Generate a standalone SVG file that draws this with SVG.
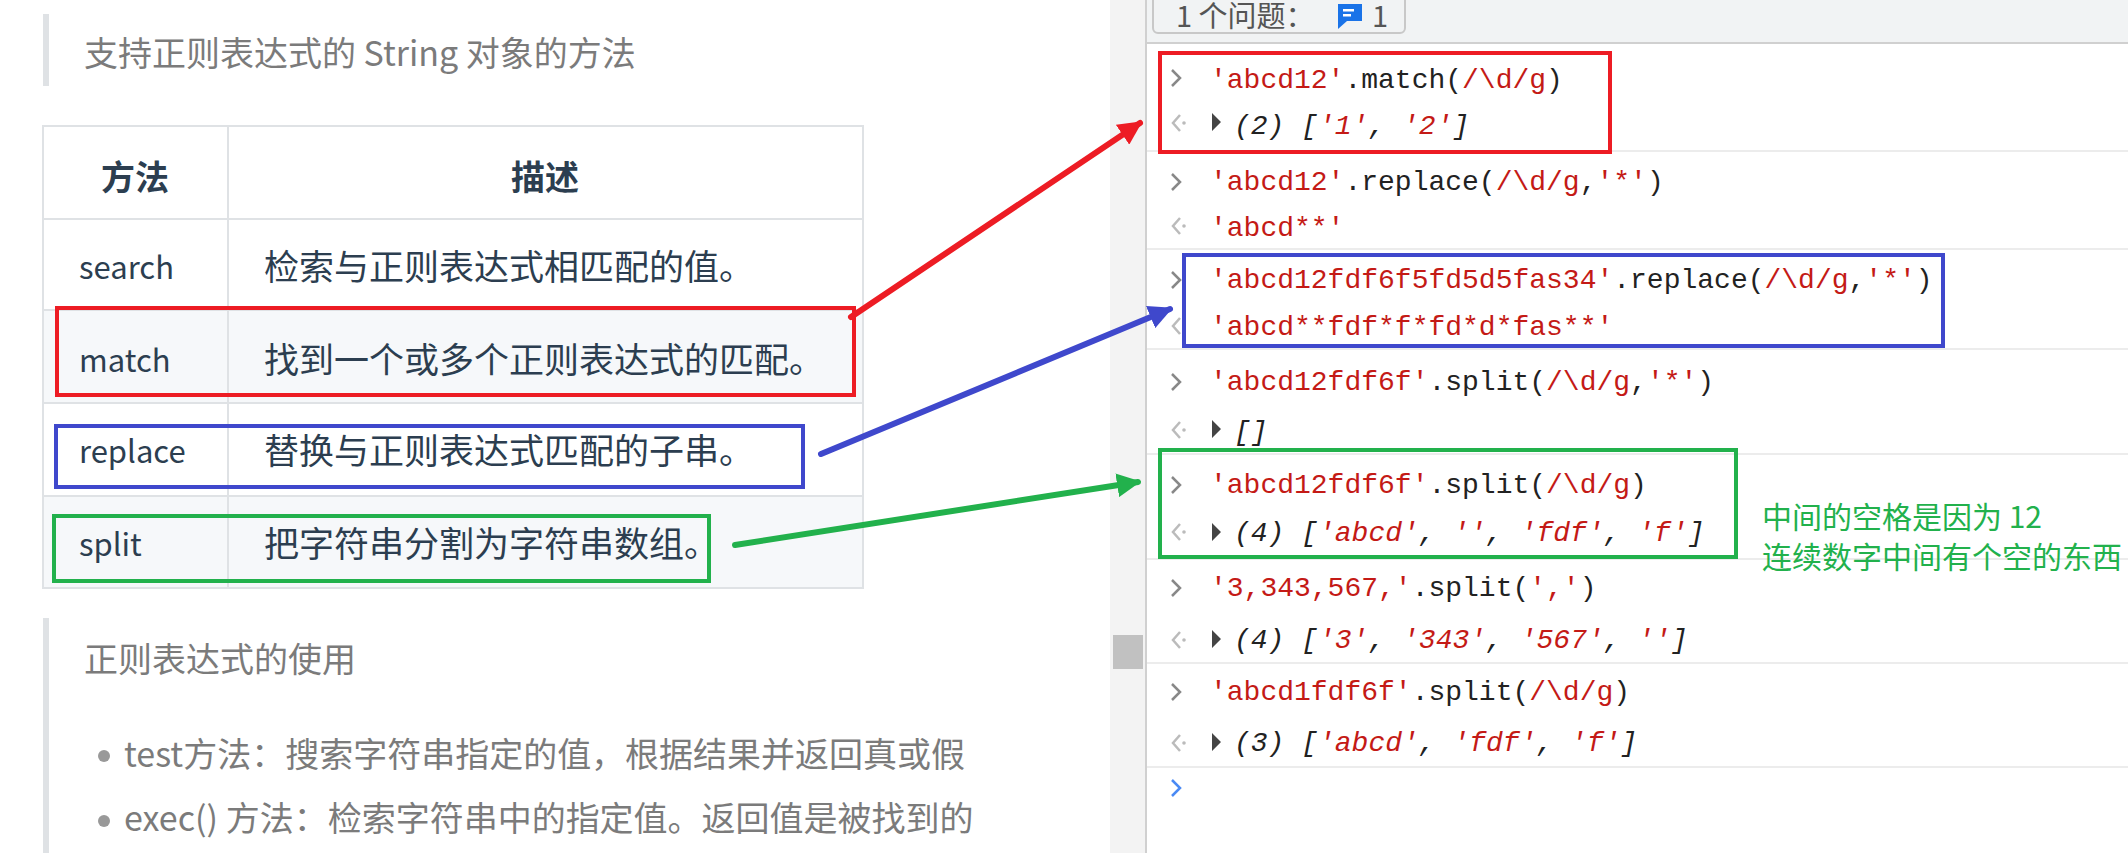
<svg xmlns="http://www.w3.org/2000/svg" width="2128" height="853" viewBox="0 0 2128 853">
<style>
.t{font-family:"Noto Sans CJK SC","Noto Sans",sans-serif}
.g{fill:#7b7b7b;font-size:34px}
.b{fill:#2c3e50;font-size:35px}
.l{fill:#2c3e50;font-size:31px}
.h{fill:#2c3e50;font-size:34px;font-weight:bold}
.m{font-family:"Liberation Mono","DejaVu Sans Mono",monospace;font-size:28px;fill:#222}
.r{fill:#c41a16}
.i{font-style:italic}
.sep{stroke:#ececec;stroke-width:2}
.cell{stroke:#dfe2e5;stroke-width:2;fill:none}
.pin{fill:none;stroke:#888;stroke-width:2.5}
.pout{fill:none;stroke:#bbb;stroke-width:2.5}
</style>
<defs>
<marker id="aR" markerWidth="4" markerHeight="4" refX="3.5" refY="2" orient="auto" markerUnits="strokeWidth"><path d="M0,0 L4,2 L0,4 Z" fill="#ed1c24"/></marker>
<marker id="aB" markerWidth="4" markerHeight="4" refX="3.5" refY="2" orient="auto" markerUnits="strokeWidth"><path d="M0,0 L4,2 L0,4 Z" fill="#3f48cc"/></marker>
<marker id="aG" markerWidth="4" markerHeight="4" refX="3.5" refY="2" orient="auto" markerUnits="strokeWidth"><path d="M0,0 L4,2 L0,4 Z" fill="#22b14c"/></marker>
</defs>
<rect width="2128" height="853" fill="#fff"/>
<g id="left">
<rect x="43" y="14" width="6" height="72" fill="#dfe2e5"/>
<text class="t g" x="84" y="66">支持正则表达式的 String 对象的方法</text>
<rect x="43" y="310" width="820" height="93" fill="#f6f8fa"/>
<rect x="43" y="496" width="820" height="92" fill="#f6f8fa"/>
<rect class="cell" x="43" y="126" width="820" height="462"/>
<line class="cell" x1="43" y1="219" x2="863" y2="219"/>
<line class="cell" x1="43" y1="310" x2="863" y2="310"/>
<line class="cell" x1="43" y1="403" x2="863" y2="403"/>
<line class="cell" x1="43" y1="496" x2="863" y2="496"/>
<line class="cell" x1="228" y1="126" x2="228" y2="588"/>
<text class="t h" x="135" y="190" text-anchor="middle">方法</text>
<text class="t h" x="545" y="190" text-anchor="middle">描述</text>
<text class="t l" x="79" y="279">search</text><text class="t b" x="264" y="280">检索与正则表达式相匹配的值。</text>
<text class="t l" x="79" y="372">match</text><text class="t b" x="264" y="373">找到一个或多个正则表达式的匹配。</text>
<text class="t l" x="79" y="463">replace</text><text class="t b" x="264" y="464">替换与正则表达式匹配的子串。</text>
<text class="t l" x="79" y="556">split</text><text class="t b" x="264" y="557">把字符串分割为字符串数组。</text>
<rect x="43" y="618" width="6" height="235" fill="#dfe2e5"/>
<text class="t g" x="84" y="672">正则表达式的使用</text>
<circle cx="104" cy="756" r="6" fill="#999"/>
<text class="t g" x="124" y="767">test方法：搜索字符串指定的值，根据结果并返回真或假</text>
<circle cx="104" cy="821" r="6" fill="#999"/>
<text class="t g" x="124" y="831">exec() 方法：检索字符串中的指定值。返回值是被找到的</text>
</g>
<g id="console">
<rect x="1110" y="0" width="36" height="853" fill="#f3f3f3"/>
<line x1="1146" y1="0" x2="1146" y2="853" stroke="#d0d0d0" stroke-width="2"/>
<rect x="1113" y="635" width="30" height="34" fill="#c1c1c1"/>
<rect x="1147" y="0" width="981" height="43" fill="#f1f3f4"/>
<line x1="1147" y1="43" x2="2128" y2="43" stroke="#d0d0d0" stroke-width="2"/>
<rect x="1153" y="-6" width="252" height="39" rx="5" fill="#f1f3f4" stroke="#c8c8c8" stroke-width="2"/>
<text class="t" x="1176" y="27" font-size="29" fill="#555">1 个问题：</text>
<path d="M1338,4 h24 v17 h-15 l-9,8 z" fill="#1a73e8"/>
<rect x="1343" y="9" width="11" height="2.5" fill="#fff"/><rect x="1343" y="14" width="8" height="2.5" fill="#fff"/>
<text class="t" x="1372" y="27" font-size="29" fill="#555">1</text>
<g id="prompts">
<path class="pin" d="M1172,70 l8,8 l-8,8"/>
<path class="pout" d="M1180,115 l-7,8 l7,8"/><circle cx="1184" cy="123" r="1.8" fill="#bbb"/>
<path class="pin" d="M1172,174 l8,8 l-8,8"/>
<path class="pout" d="M1180,218 l-7,8 l7,8"/><circle cx="1184" cy="226" r="1.8" fill="#bbb"/>
<path class="pin" d="M1172,272 l8,8 l-8,8"/>
<path class="pout" d="M1180,318 l-7,8 l7,8"/><circle cx="1184" cy="326" r="1.8" fill="#bbb"/>
<path class="pin" d="M1172,374 l8,8 l-8,8"/>
<path class="pout" d="M1180,422 l-7,8 l7,8"/><circle cx="1184" cy="430" r="1.8" fill="#bbb"/>
<path class="pin" d="M1172,477 l8,8 l-8,8"/>
<path class="pout" d="M1180,524 l-7,8 l7,8"/><circle cx="1184" cy="532" r="1.8" fill="#bbb"/>
<path class="pin" d="M1172,580 l8,8 l-8,8"/>
<path class="pout" d="M1180,632 l-7,8 l7,8"/><circle cx="1184" cy="640" r="1.8" fill="#bbb"/>
<path class="pin" d="M1172,684 l8,8 l-8,8"/>
<path class="pout" d="M1180,735 l-7,8 l7,8"/><circle cx="1184" cy="743" r="1.8" fill="#bbb"/>
<path d="M1172,780 l8,8 l-8,8" fill="none" stroke="#4a8af4" stroke-width="2.5"/>
<path d="M1212,113 l9,9 l-9,9 z M1212,420 l9,9 l-9,9 z M1212,523 l9,9 l-9,9 z M1212,630 l9,9 l-9,9 z M1212,733 l9,9 l-9,9 z" fill="#444"/>
</g>
<line class="sep" x1="1147" y1="151" x2="2128" y2="151"/>
<line class="sep" x1="1147" y1="249" x2="2128" y2="249"/>
<line class="sep" x1="1147" y1="349" x2="2128" y2="349"/>
<line class="sep" x1="1147" y1="454" x2="2128" y2="454"/>
<line class="sep" x1="1147" y1="559" x2="2128" y2="559"/>
<line class="sep" x1="1147" y1="663" x2="2128" y2="663"/>
<line class="sep" x1="1147" y1="767" x2="2128" y2="767"/>
<text class="m" x="1210" y="88"><tspan class="r">'abcd12'</tspan>.match(<tspan class="r">/\d/g</tspan>)</text>
<text class="m i" x="1234" y="134">(2) [<tspan class="r">'1'</tspan>, <tspan class="r">'2'</tspan>]</text>
<text class="m" x="1210" y="190"><tspan class="r">'abcd12'</tspan>.replace(<tspan class="r">/\d/g</tspan>,<tspan class="r">'*'</tspan>)</text>
<text class="m r" x="1210" y="236">'abcd**'</text>
<text class="m" x="1210" y="288"><tspan class="r">'abcd12fdf6f5fd5d5fas34'</tspan>.replace(<tspan class="r">/\d/g</tspan>,<tspan class="r">'*'</tspan>)</text>
<text class="m r" x="1210" y="335">'abcd**fdf*f*fd*d*fas**'</text>
<text class="m" x="1210" y="390"><tspan class="r">'abcd12fdf6f'</tspan>.split(<tspan class="r">/\d/g</tspan>,<tspan class="r">'*'</tspan>)</text>
<text class="m i" x="1234" y="440">[]</text>
<text class="m" x="1210" y="493"><tspan class="r">'abcd12fdf6f'</tspan>.split(<tspan class="r">/\d/g</tspan>)</text>
<text class="m i" x="1234" y="541">(4) [<tspan class="r">'abcd'</tspan>, <tspan class="r">''</tspan>, <tspan class="r">'fdf'</tspan>, <tspan class="r">'f'</tspan>]</text>
<text class="m" x="1210" y="596"><tspan class="r">'3,343,567,'</tspan>.split(<tspan class="r">','</tspan>)</text>
<text class="m i" x="1234" y="648">(4) [<tspan class="r">'3'</tspan>, <tspan class="r">'343'</tspan>, <tspan class="r">'567'</tspan>, <tspan class="r">''</tspan>]</text>
<text class="m" x="1210" y="700"><tspan class="r">'abcd1fdf6f'</tspan>.split(<tspan class="r">/\d/g</tspan>)</text>
<text class="m i" x="1234" y="751">(3) [<tspan class="r">'abcd'</tspan>, <tspan class="r">'fdf'</tspan>, <tspan class="r">'f'</tspan>]</text>
</g>
<g id="highlights" fill="none" stroke-width="4">
<rect x="57" y="308" width="797" height="87" stroke="#ed1c24"/>
<rect x="56" y="426" width="747" height="61" stroke="#3f48cc"/>
<rect x="54" y="516" width="655" height="65" stroke="#22b14c"/>
<rect x="1160" y="53" width="450" height="99" stroke="#ed1c24"/>
<rect x="1184" y="255" width="759" height="91" stroke="#3f48cc"/>
<rect x="1160" y="450" width="576" height="107" stroke="#22b14c"/>
</g>
<g id="note">
<text class="t" x="1762" y="528" font-size="30" fill="#22b14c">中间的空格是因为 12</text>
<text class="t" x="1762" y="568" font-size="30" fill="#22b14c">连续数字中间有个空的东西</text>
</g>
<g id="connectors" stroke-width="6" stroke-linecap="round">
<line x1="851" y1="317" x2="1140" y2="123" stroke="#ed1c24" marker-end="url(#aR)"/>
<line x1="821" y1="454" x2="1170" y2="309" stroke="#3f48cc" marker-end="url(#aB)"/>
<line x1="735" y1="545" x2="1138" y2="482" stroke="#22b14c" marker-end="url(#aG)"/>
</g>
</svg>
